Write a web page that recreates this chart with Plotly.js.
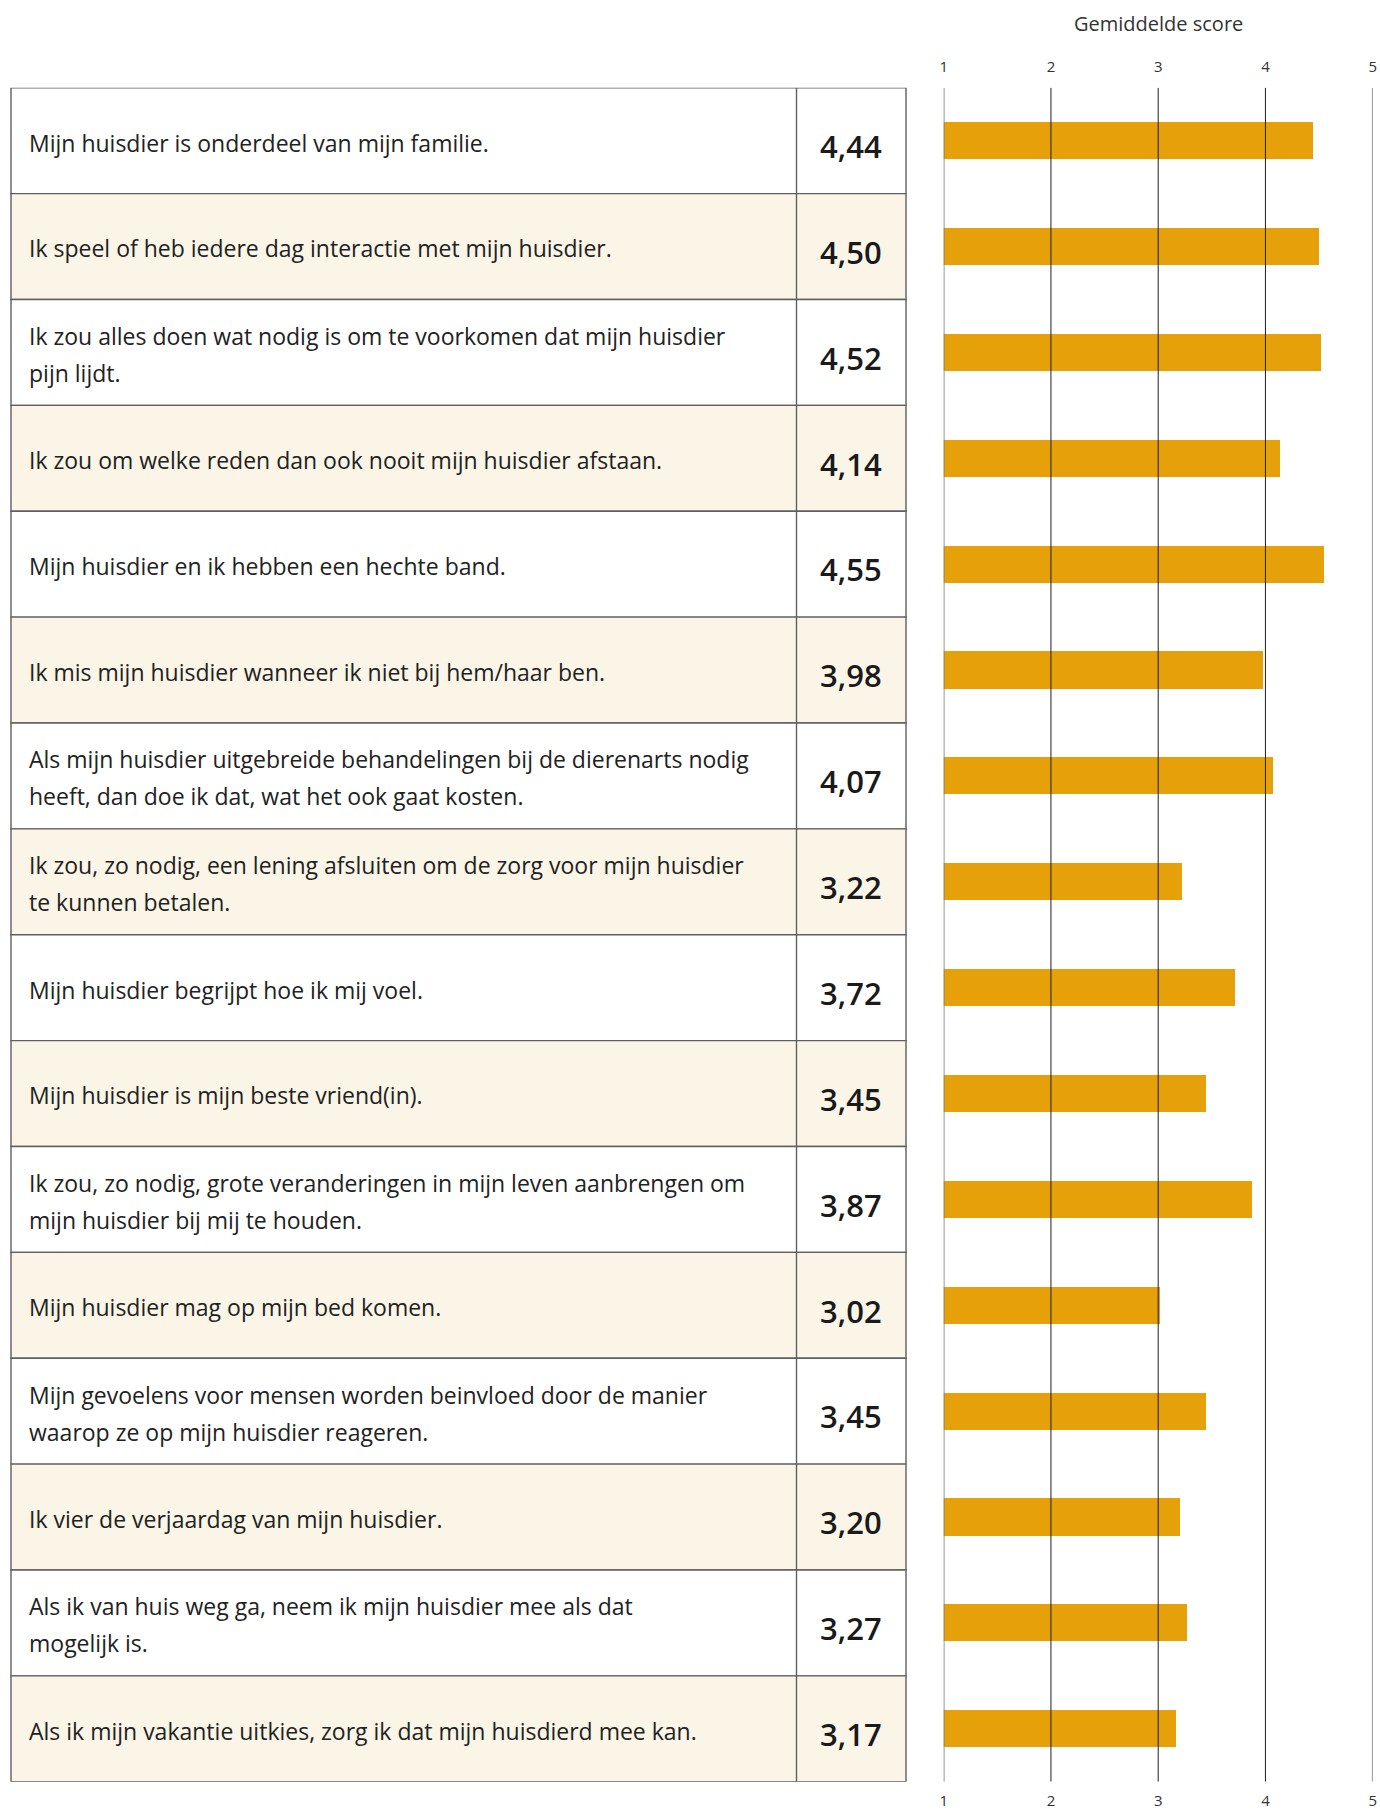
<!DOCTYPE html>
<html>
<head>
<meta charset="utf-8">
<script src="https://cdn.plot.ly/plotly-3.0.1.min.js"></script>
<style>
html, body { margin: 0; padding: 0; background: #ffffff; }
#chart { width: 1380px; height: 1809px; }
</style>
</head>
<body>
<div id="chart"></div>
<script>
// ---- data ----
const statements = [
  "Mijn huisdier is onderdeel van mijn familie.",
  "Ik speel of heb iedere dag interactie met mijn huisdier.",
  "Ik zou alles doen wat nodig is om te voorkomen dat mijn huisdier\npijn lijdt.",
  "Ik zou om welke reden dan ook nooit mijn huisdier afstaan.",
  "Mijn huisdier en ik hebben een hechte band.",
  "Ik mis mijn huisdier wanneer ik niet bij hem/haar ben.",
  "Als mijn huisdier uitgebreide behandelingen bij de dierenarts nodig\nheeft, dan doe ik dat, wat het ook gaat kosten.",
  "Ik zou, zo nodig, een lening afsluiten om de zorg voor mijn huisdier\nte kunnen betalen.",
  "Mijn huisdier begrijpt hoe ik mij voel.",
  "Mijn huisdier is mijn beste vriend(in).",
  "Ik zou, zo nodig, grote veranderingen in mijn leven aanbrengen om\nmijn huisdier bij mij te houden.",
  "Mijn huisdier mag op mijn bed komen.",
  "Mijn gevoelens voor mensen worden beinvloed door de manier\nwaarop ze op mijn huisdier reageren.",
  "Ik vier de verjaardag van mijn huisdier.",
  "Als ik van huis weg ga, neem ik mijn huisdier mee als dat\nmogelijk is.",
  "Als ik mijn vakantie uitkies, zorg ik dat mijn huisdierd mee kan."
];
const scores = [4.44, 4.50, 4.52, 4.14, 4.55, 3.98, 4.07, 3.22, 3.72, 3.45, 3.87, 3.02, 3.45, 3.20, 3.27, 3.17];
const tickValues = [1, 2, 3, 4, 5];
const tickLabels = ["1", "2", "3", "4", "5"];
const axisTitle = "Gemiddelde score";

// ---- styling ----
const W = 1380, H = 1809;
const FONT = "'Open Sans', 'Noto Sans', sans-serif";
const barColor = "#E5A00A";
const altFill = "#FAF5E6";
const borderColor = "#5f5f5f";
const tableLeft = 11 / W, tableRight = 906 / W, colDivider = 796.5 / W;
const labelX = 27 / W, numberX = 851 / W;
const plotTop = 87.7, plotBottom = 1781.7;
const lineOffset = 0.175;
const labelShift = 0.018, numberShift = 0.05;

const rowIdx = statements.map((_, i) => i);

const shapes = [];
const annotations = [];

statements.forEach((s, i) => {
  shapes.push({
    type: "rect", layer: "below",
    xref: "paper", yref: "y",
    x0: tableLeft, x1: tableRight, y0: i - 0.5, y1: i + 0.5,
    fillcolor: i % 2 === 1 ? altFill : "#ffffff",
    line: { color: borderColor, width: 1.4 }
  });
  const lines = s.split("\n");
  lines.forEach((ln, k) => {
    const off = lines.length === 1 ? 0 : (k === 0 ? -lineOffset : lineOffset);
    annotations.push({
      xref: "paper", yref: "y", x: labelX, y: i + off + labelShift,
      xanchor: "left", yanchor: "middle", showarrow: false,
      text: ln, font: { family: FONT, size: 23, color: "#222222" }
    });
  });
  annotations.push({
    xref: "paper", yref: "y", x: numberX, y: i + numberShift,
    xanchor: "center", yanchor: "middle", showarrow: false,
    text: scores[i].toFixed(2).replace(".", ","),
    font: { family: FONT, size: 31, weight: 600, color: "#1a1a1a" }
  });
});

shapes.push({
  type: "line", xref: "paper", yref: "y",
  x0: colDivider, x1: colDivider, y0: -0.5, y1: statements.length - 0.5,
  line: { color: borderColor, width: 1.4 }
});

// vertical grid lines at every tick value
tickValues.forEach((v, k) => {
  const edge = (k === 0 || k === tickValues.length - 1);
  shapes.push({
    type: "line", layer: "above", xref: "x", yref: "y",
    x0: v, x1: v, y0: -0.5, y1: statements.length - 0.5,
    line: { color: edge ? "#7d7d7d" : "#1e1e1e", width: edge ? 1.6 : 1 }
  });
});

annotations.push({
  xref: "x", yref: "paper", x: 3, y: 1 - 23 / H,
  xanchor: "center", yanchor: "middle", showarrow: false,
  text: axisTitle, font: { family: FONT, size: 20, color: "#333333" }
});

const trace = {
  type: "bar", orientation: "h",
  x: scores, y: rowIdx,
  width: 0.35,
  marker: { color: barColor, line: { width: 0 } },
  hoverinfo: "x"
};

const axisCommon = {
  range: [1, 5],
  tickmode: "array", tickvals: tickValues, ticktext: tickLabels,
  tickfont: { family: FONT, size: 15, color: "#333333" },
  ticks: "", zeroline: false, showline: false, showgrid: false, fixedrange: true
};

const layout = {
  width: W, height: H,
  margin: { l: 0, r: 0, t: 0, b: 0, pad: 0 },
  paper_bgcolor: "#ffffff", plot_bgcolor: "rgba(0,0,0,0)",
  showlegend: false,
  font: { family: FONT },
  xaxis: Object.assign({}, axisCommon, {
    domain: [943.7 / W, 1372.7 / W], side: "bottom",
    ticklabelstandoff: 8
  }),
  xaxis2: Object.assign({}, axisCommon, {
    overlaying: "x", matches: "x", side: "top", anchor: "y",
    ticklabelstandoff: 12
  }),
  yaxis: {
    domain: [1 - plotBottom / H, 1 - plotTop / H],
    range: [statements.length - 0.5, -0.5],
    showticklabels: false, showgrid: false, zeroline: false, ticks: "",
    fixedrange: true
  },
  shapes: shapes,
  annotations: annotations,
  bargap: 0
};

// invisible trace to activate the top axis
const topTrace = { type: "scatter", x: [1, 5], y: [0, 0], xaxis: "x2", yaxis: "y",
  mode: "markers", marker: { opacity: 0 }, hoverinfo: "skip" };

Plotly.newPlot("chart", [trace, topTrace], layout, { displayModeBar: false, staticPlot: true });
</script>
</body>
</html>
